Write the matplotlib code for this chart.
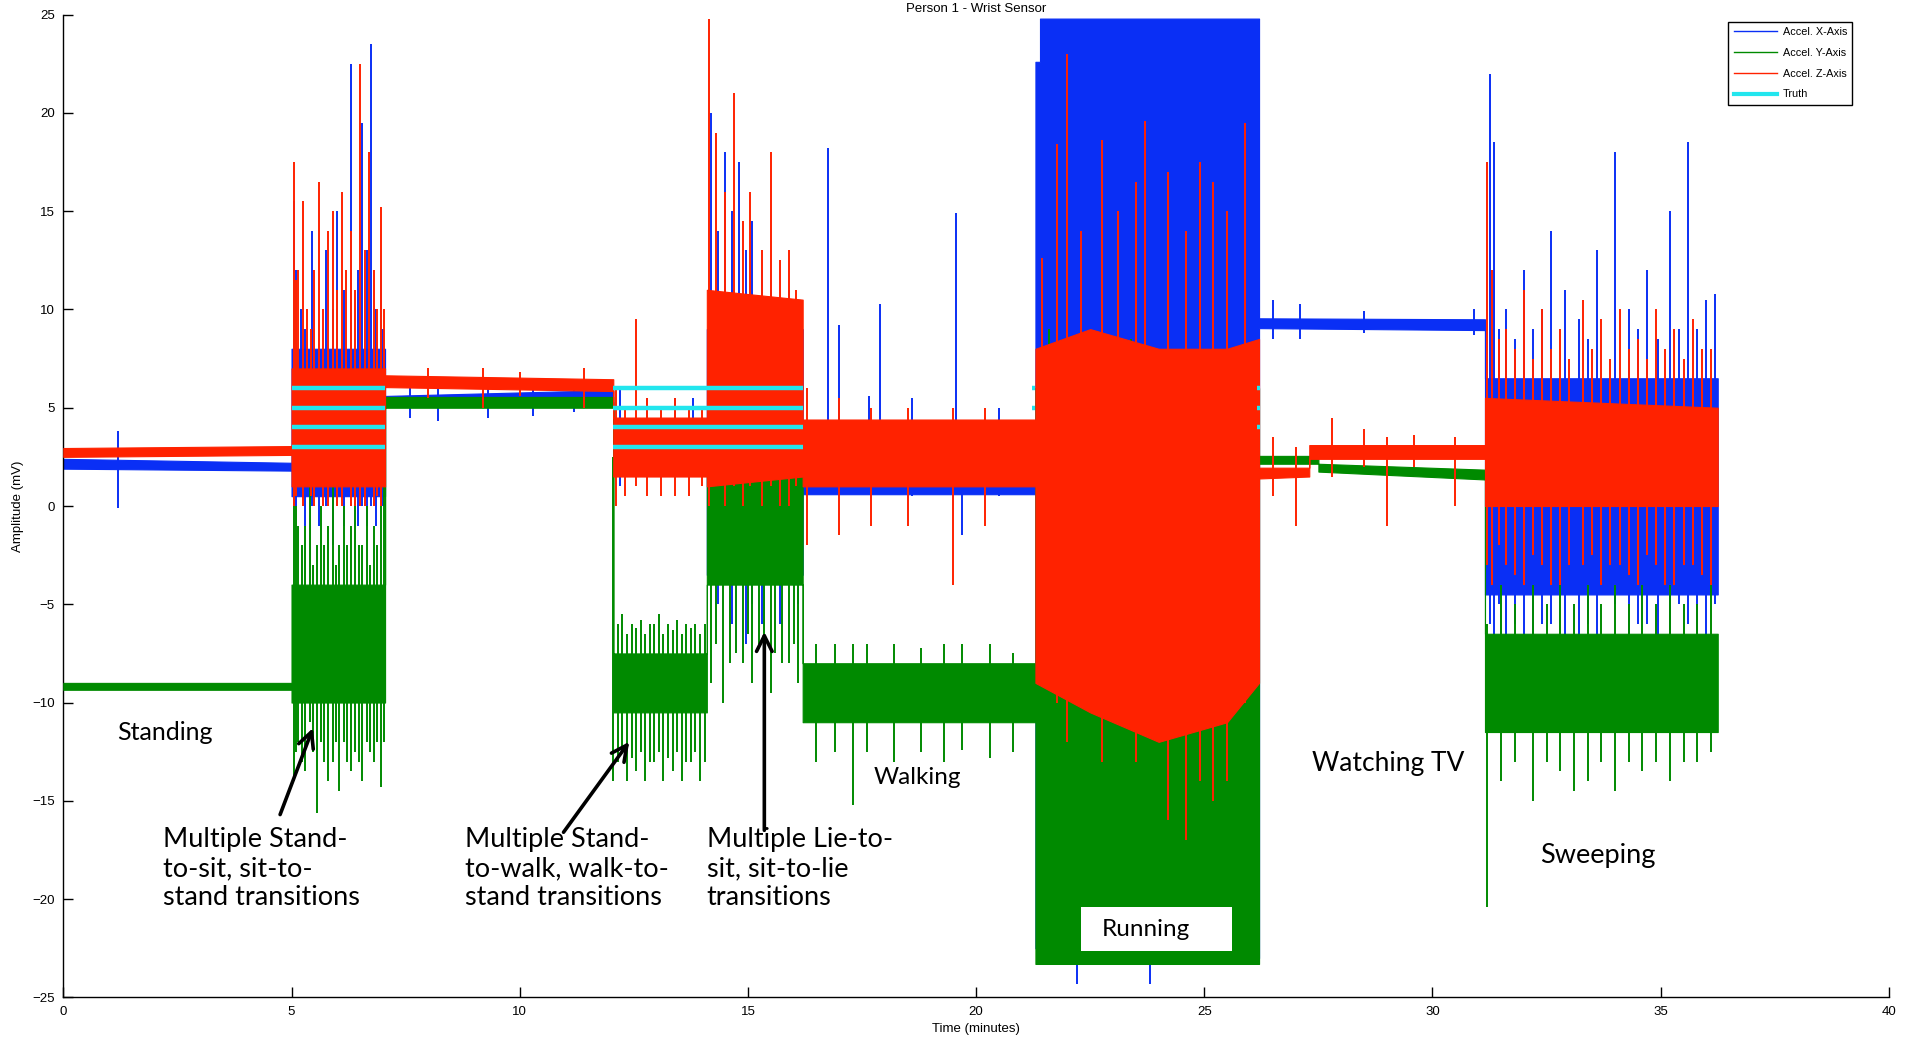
import matplotlib
matplotlib.use("Agg")
import matplotlib.pyplot as plt
from matplotlib.lines import Line2D
from matplotlib.patches import Rectangle
import numpy as np

# ---------------- data ----------------
# Envelope knots (minutes) and per-channel dense band (low / high, mV)
x_env_t  = [0.0, 5.0, 5.0, 7.05, 7.05, 12.05, 12.05, 14.1, 14.1, 16.2, 16.2, 21.3, 21.3, 21.4, 21.4, 26.2, 26.2, 31.15, 31.15, 36.25]
x_env_lo = [1.9, 1.8, 0.5, 0.5, 5.1, 5.3, 2.0, 2.0, -3.5, -3.5, 0.6, 0.6, -22.5, -22.5, -23.0, -23.0, 9.05, 8.95, -4.5, -4.5]
x_env_hi = [2.4, 2.2, 8.0, 8.0, 5.6, 5.9, 4.0, 4.0, 9.0, 9.0, 3.8, 3.8, 22.6, 22.6, 24.8, 24.8, 9.55, 9.5, 6.5, 6.5]

y_env_t  = [0.0, 5.0, 5.0, 7.05, 7.05, 12.05, 12.05, 14.1, 14.1, 16.2, 16.2, 21.3, 21.3, 26.2, 26.2, 27.5, 27.5, 31.15, 31.15, 36.25]
y_env_lo = [-9.35, -9.35, -10.0, -10.0, 5.0, 5.0, -10.5, -10.5, -4.0, -4.0, -11.0, -11.0, -23.3, -23.3, 2.15, 2.15, 1.75, 1.35, -11.5, -11.5]
y_env_hi = [-9.0, -9.0, -4.0, -4.0, 5.55, 5.55, -7.5, -7.5, 1.5, 1.5, -8.0, -8.0, 6.0, 6.0, 2.55, 2.55, 2.15, 1.85, -6.5, -6.5]

z_env_t  = [0.0, 5.0, 5.0, 7.05, 7.05, 12.05, 12.05, 14.1, 14.1, 16.2, 16.2, 21.3, 21.3, 22.5, 24.0, 25.5, 26.2, 26.2, 27.3, 27.3, 31.15, 31.15, 36.25]
z_env_lo = [2.5, 2.6, 1.0, 1.0, 6.05, 5.85, 1.5, 1.5, 1.0, 1.5, 1.0, 1.0, -9.0, -10.5, -12.0, -11.0, -9.0, 1.4, 1.5, 2.4, 2.4, 0.0, 0.0]
z_env_hi = [2.95, 3.05, 7.0, 7.0, 6.65, 6.45, 4.5, 4.5, 11.0, 10.5, 4.4, 4.4, 8.0, 9.0, 8.0, 8.0, 8.5, 1.95, 1.95, 3.1, 3.1, 5.5, 5.0]

# Individual spikes: time (min), low, high (mV)
x_spk_t  = [1.2, 5.05, 5.1, 5.2, 5.3, 5.45, 5.6, 5.75, 5.9, 6.0, 6.15, 6.3, 6.45, 6.55, 6.65, 6.75, 6.85, 6.95, 7.0,
            7.6, 8.2, 9.3, 10.3, 11.2, 12.2, 12.8, 13.4, 13.8,
            14.2, 14.35, 14.5, 14.65, 14.8, 14.95, 15.1, 15.3, 15.5, 15.7, 15.9, 16.1,
            16.75, 17.0, 17.65, 17.9, 18.6, 19.57, 19.7, 20.5, 22.2, 23.8,
            26.5, 27.1, 28.5, 30.9,
            31.25, 31.35, 31.45, 31.6, 31.8, 32.0, 32.2, 32.4, 32.6, 32.9, 33.2, 33.4, 33.6, 34.0, 34.3, 34.5,
            34.7, 34.95, 35.2, 35.4, 35.6, 35.8, 36.0, 36.2]
x_spk_lo = [-0.1, 0.5, 0.0, 0.5, -1, 0, -1, 0, -2, 0, -1, 0, -1, 0, -1, 0, -1, 0, 0,
            4.5, 4.3, 4.5, 4.6, 4.8, 1.0, 1.5, 1.5, 1.5,
            -3, -5, -3, -6, -4, -7, -5, -6, -4, -6, -3, -5,
            1, 1, 1, 1, 0.5, 1, -1.5, 0.5, -24.3, -24.3,
            8.5, 8.5, 8.8, 8.7,
            -6, -8, -5, -7, -6, -8, -9, -6, -6, -7, -8, -6, -7, -5, -8, -6,
            -6, -7, -7, -5, -6, -8, -7, -5]
x_spk_hi = [3.8, 15.5, 12, 10, 9, 14, 8, 13, 10, 15, 11, 22.5, 12, 19.5, 13, 23.5, 10, 12, 9,
            6.0, 6.0, 6.0, 6.0, 6.2, 6.0, 5.5, 5.5, 5.5,
            20, 14, 18, 15, 17.5, 13, 14.5, 12, 11, 10, 11, 9,
            18.2, 9.2, 5.6, 10.3, 5.5, 14.9, 3.5, 5.0, 0, 0,
            10.5, 10.3, 9.9, 10.0,
            22.0, 18.5, 9, 10, 8.5, 12, 9, 10, 14, 11, 9.5, 8.5, 13, 18, 10, 9,
            12, 8.5, 15, 9, 18.5, 9, 10.5, 10.8]

y_spk_t  = [5.05, 5.1, 5.15, 5.22, 5.3, 5.4, 5.48, 5.55, 5.65, 5.72, 5.8, 5.9, 5.97, 6.05, 6.15, 6.22, 6.3, 6.4,
            6.47, 6.55, 6.65, 6.72, 6.8, 6.88, 6.95, 7.02,
            12.05, 12.15, 12.25, 12.35, 12.45, 12.55, 12.65, 12.75, 12.85, 12.95, 13.05, 13.15, 13.25, 13.35,
            13.45, 13.55, 13.65, 13.75, 13.85, 13.95, 14.05,
            14.2, 14.3, 14.45, 14.6, 14.75, 14.9, 15.0, 15.1, 15.25, 15.35, 15.5, 15.6, 15.75, 15.9, 16.0, 16.1,
            16.5, 16.9, 17.3, 17.6, 18.2, 18.8, 19.3, 19.7, 20.3, 20.8,
            21.6, 22.5, 23.4, 24.1, 25.0, 25.8,
            31.2, 31.5, 31.8, 32.2, 32.5, 32.8, 33.1, 33.4, 33.7, 34.0, 34.3, 34.6, 34.9, 35.2, 35.5, 35.8, 36.1]
y_spk_lo = [-14, -12.5, -12, -13, -13.5, -11, -12.5, -15.6, -12, -13, -14, -13, -12, -14.5, -12, -13, -13.5, -12.5,
            -13, -14, -12, -12.5, -13, -12, -14.3, -12,
            -14, -13, -12.5, -14, -12.8, -13.5, -12.5, -14, -13, -13, -12.5, -14, -12.8, -13.5,
            -12.5, -14, -13, -13, -12.5, -14, -13,
            -9, -7, -10, -8, -7.5, -8, -6.5, -9, -7, -7, -9.5, -7.5, -8, -8, -7, -9,
            -13, -12.5, -15.2, -12.5, -13, -12.5, -13, -12.4, -12.8, -12.5,
            0, 0, 0, 0, 0, 0,
            -20.4, -14, -13, -15, -13, -13.5, -14.5, -14, -13, -14.5, -13, -13.5, -13, -14, -13, -13, -12.5]
y_spk_hi = [2, 0, -1, -2, -1, 1, -3, -2, 0, -2, -1, 1, -3, -2, 0, -2, -1, 1,
            -2, -2, 0, -3, -1, -2, 0, 2,
            2.5, -6, -5.5, -6.5, -6, -6.2, -5.8, -6.5, -6, -6.0, -5.5, -6.5, -6, -6.3,
            -5.8, -6.5, -6, -6.2, -6, -6.5, -6,
            4, 3, 5, 2, 4, 3, 4.5, 2, 3, 3.5, 2, 4, 3, 3, 2, 2,
            -7, -7, -7, -7, -7, -7.2, -7, -7, -7, -7.5,
            9, 7, 8.5, 6, 8, 7,
            -6, -4, -5, -4, -5, -4, -5, -4, -5, -4, -5, -4, -5, -4, -5, -5, -4]

z_spk_t  = [5.05, 5.1, 5.15, 5.25, 5.35, 5.42, 5.5, 5.6, 5.7, 5.8, 5.9, 6.0, 6.1, 6.2, 6.3, 6.4, 6.5, 6.6, 6.7,
            6.8, 6.88, 6.95, 7.02,
            8.0, 9.2, 10.0, 11.4,
            12.1, 12.3, 12.55, 12.8, 13.1, 13.4, 13.7, 14.0,
            14.15, 14.3, 14.5, 14.7, 14.9, 15.05, 15.3, 15.5, 15.7, 15.9, 16.05,
            16.3, 17.0, 17.7, 18.5, 19.5, 20.2,
            21.45, 21.78, 22.0, 22.3, 22.75, 23.1, 23.5, 23.7, 24.2, 24.6, 24.9, 25.2, 25.5, 25.9,
            26.5, 27.0, 27.8, 28.5, 29.0, 29.6, 30.5,
            31.2, 31.3, 31.45, 31.6, 31.8, 32.0, 32.2, 32.4, 32.6, 32.8, 33.0, 33.3, 33.5, 33.7, 33.9, 34.1,
            34.3, 34.5, 34.7, 34.9, 35.1, 35.3, 35.5, 35.7, 35.9, 36.1]
z_spk_lo = [0, 0.5, 1, 0, 1, 0.5, 0, 1, 0, 0, 1, 0, 0, 1, 0, 0, 0, 0, 1,
            0, 0.5, 0, 1,
            5.5, 5.0, 5.6, 5.0,
            0, 0.5, 1, 0.5, 0.5, 0.5, 0.5, 1,
            0, 1, 0, 1, 0, 1, 0, 1, 0, 0, 1,
            -2, -1.5, -1, -1, -4, -1,
            -8, -10, -12, -10, -13, -11, -13, -11, -16, -17, -14, -15, -14, -10,
            0.5, -1, 1.5, 2, -1, 2.0, 0,
            -3, -4, -2, -3, -3.5, -4, -2.5, -3, -4, -4, -3, -3, -2.5, -4, -3, -3,
            -3.5, -4, -2.5, -3, -4, -4, -3, -3, -3.5, -4]
z_spk_hi = [17.5, 11.5, 12, 15.5, 10, 9, 12, 16.5, 10, 14, 15, 11, 16, 12, 14, 11, 22.5, 13, 18,
            12, 10, 15.2, 10,
            7.0, 7.0, 6.8, 7.0,
            6, 5, 9.5, 5.5, 5, 5.5, 5, 5,
            24.8, 19, 16, 21, 14.5, 16, 13, 18, 12.5, 13, 11,
            6, 5.5, 5.0, 5, 5, 5,
            12.6, 18.4, 23, 14, 18.6, 15, 16.5, 19.6, 17, 14, 17.5, 16.5, 15, 19.5,
            3.5, 3, 4.5, 3.9, 3.5, 3.6, 3.5,
            17.5, 12, 8.5, 9, 8, 11, 7.5, 10, 8, 9, 7.5, 10.5, 8, 9.5, 7.5, 10,
            8, 8.5, 7.5, 10, 8, 9, 7.5, 9.5, 8, 8]

# Ground-truth label lines
truth_t0 = [5.0, 5.0, 5.0, 5.0, 12.05, 12.05, 12.05, 12.05, 21.22, 21.22, 26.15, 26.15, 26.15]
truth_t1 = [7.05, 7.05, 7.05, 7.05, 16.2, 16.2, 16.2, 16.2, 21.28, 21.28, 26.22, 26.22, 26.22]
truth_v  = [3, 4, 5, 6, 3, 4, 5, 6, 5, 6, 4, 5, 6]

series_names = ["Accel. X-Axis", "Accel. Y-Axis", "Accel. Z-Axis", "Truth"]

# ---------------- styling ----------------
C_X = "#0a2ff5"
C_Y = "#008a00"
C_Z = "#ff2200"
C_T = "#22e6ee"
ANN_FONT = ["Lato", "DejaVu Sans"]
AX_FONT = ["Liberation Sans", "DejaVu Sans"]

fig = plt.figure(figsize=(19.07, 10.46), dpi=100)
ax = fig.add_axes([0.0332, 0.0465, 0.9573, 0.9395])

channels = [
    (x_env_t, x_env_lo, x_env_hi, x_spk_t, x_spk_lo, x_spk_hi, C_X, 2),
    (y_env_t, y_env_lo, y_env_hi, y_spk_t, y_spk_lo, y_spk_hi, C_Y, 3),
    (z_env_t, z_env_lo, z_env_hi, z_spk_t, z_spk_lo, z_spk_hi, C_Z, 4),
]
for et, elo, ehi, st, slo, shi, col, z in channels:
    ax.fill_between(et, elo, ehi, color=col, lw=0.8, edgecolor=col, zorder=z)
    ax.vlines(st, slo, shi, color=col, lw=1.4, zorder=z)

for t0, t1, v in zip(truth_t0, truth_t1, truth_v):
    ax.plot([t0, t1], [v, v], color=C_T, lw=3.2, solid_capstyle="butt", zorder=6)

ax.set_xlim(0, 40)
ax.set_ylim(-25, 25)
ax.set_xticks(np.arange(0, 41, 5))
ax.set_yticks(np.arange(-25, 26, 5))
for s in ["top", "right"]:
    ax.spines[s].set_visible(False)
for s in ["left", "bottom"]:
    ax.spines[s].set_linewidth(1.0)
ax.tick_params(direction="in", length=7, width=1, labelsize=9.5, pad=6)
for lab in ax.get_xticklabels() + ax.get_yticklabels():
    lab.set_family(AX_FONT)
ax.set_xlabel("Time (minutes)", fontsize=9.5, family=AX_FONT, labelpad=4)
ax.set_ylabel("Amplitude (mV)", fontsize=9.5, family=AX_FONT, labelpad=6)
ax.set_title("Person 1 - Wrist Sensor", fontsize=9.5, family=AX_FONT, pad=1.5)

handles = [Line2D([], [], color=C_X, lw=1), Line2D([], [], color=C_Y, lw=1),
           Line2D([], [], color=C_Z, lw=1), Line2D([], [], color=C_T, lw=3)]
leg = ax.legend(handles, series_names, loc="upper right", bbox_to_anchor=(0.98, 0.993),
                fancybox=False, framealpha=1, edgecolor="black", handlelength=4.0,
                labelspacing=1.0, borderpad=0.5, handletextpad=0.5, borderaxespad=0,
                prop={"family": AX_FONT, "size": 7.8})
leg.get_frame().set_linewidth(1.0)
leg.set_zorder(10)

# ---------------- annotations ----------------
ax.text(1.17, -11.5, "Standing", fontsize=18, family=ANN_FONT, va="center", ha="left", zorder=8)
ax.text(17.76, -13.8, "Walking", fontsize=17.5, family=ANN_FONT, va="center", ha="left", zorder=8)
ax.text(27.36, -13.1, "Watching TV", fontsize=19, family=ANN_FONT, va="center", ha="left", zorder=8)
ax.text(32.35, -17.8, "Sweeping", fontsize=19.5, family=ANN_FONT, va="center", ha="left", zorder=8)
ax.add_patch(Rectangle((22.3, -22.65), 3.3, 2.25, facecolor="white", edgecolor="none", zorder=7))
ax.text(22.75, -21.55, "Running", fontsize=17.5, family=ANN_FONT, va="center", ha="left", zorder=8)

multi = [
    ("Multiple Stand-\nto-sit, sit-to-\nstand transitions", 2.19, (4.75, -15.7), (5.47, -11.3)),
    ("Multiple Stand-\nto-walk, walk-to-\nstand transitions", 8.8, (10.96, -16.6), (12.4, -12.0)),
    ("Multiple Lie-to-\nsit, sit-to-lie\ntransitions", 14.1, (15.36, -16.5), (15.36, -6.4)),
]
for txt, tx, tail, head in multi:
    ax.text(tx, -16.35, txt, fontsize=19.5, family=ANN_FONT, va="top", ha="left",
            linespacing=1.18, zorder=8)
    ax.annotate("", xy=head, xytext=tail,
                arrowprops=dict(arrowstyle="->", lw=2.6, color="black",
                                mutation_scale=28, shrinkA=0, shrinkB=0), zorder=8)

fig.savefig("out.png", dpi=100)
